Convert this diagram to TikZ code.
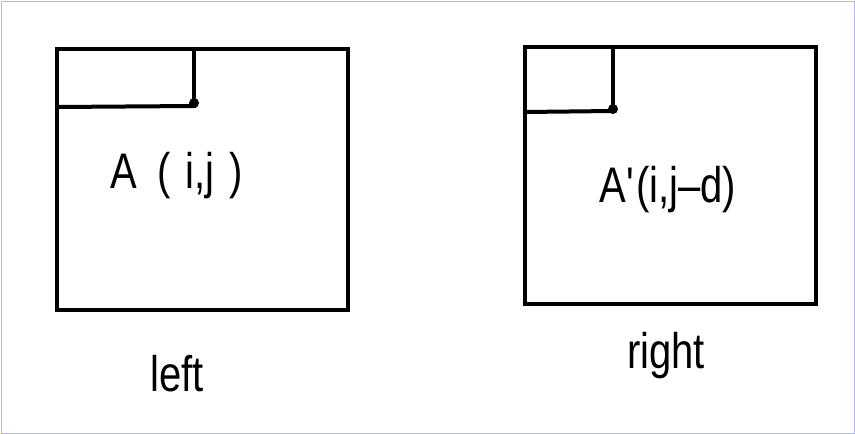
\documentclass[tikz,border=0pt]{standalone}
\usepackage{fontspec}
\setmainfont[FakeStretch=0.8]{Liberation Sans}
\begin{document}
\begin{tikzpicture}[x=1pt,y=-1pt,
  box/.style={draw=black,line width=4pt},
  lbl/.style={font=\fontsize{50}{54}\selectfont,inner sep=0pt}]
\useasboundingbox (0,0) rectangle (855,434);
\draw[draw=blue!30,line width=1pt] (1,1) rectangle (854,433);
% left
\node[box,minimum width=291pt,minimum height=261pt,anchor=north west,inner sep=0pt] (L) at (55,47) {};
\coordinate (Lc) at (194,103);
\draw[line width=4pt] (L.north west -| Lc) -- (Lc);
\draw[line width=4pt] (57,107) -- (194,106) -- (Lc);
\fill (Lc) circle (5pt);
\node[lbl] (Lt) at (177,176) {A\hspace{0.4em}(\hspace{0.3em}i,j\hspace{0.3em})};
\node[lbl] (Ln) at (177,374) {left};
% right
\node[box,minimum width=291pt,minimum height=257pt,anchor=north west,inner sep=0pt] (R) at (523,45) {};
\coordinate (Rc) at (613,109);
\draw[line width=4pt] (R.north west -| Rc) -- (Rc);
\draw[line width=4pt] (525,112) -- (613,111) -- (Rc);
\fill (Rc) circle (5pt);
\node[lbl] (Rt) at (668,190) {A\textquotesingle(i,j--d)};
\node[lbl] (Rn) at (666,356) {right};
\end{tikzpicture}
\end{document}
